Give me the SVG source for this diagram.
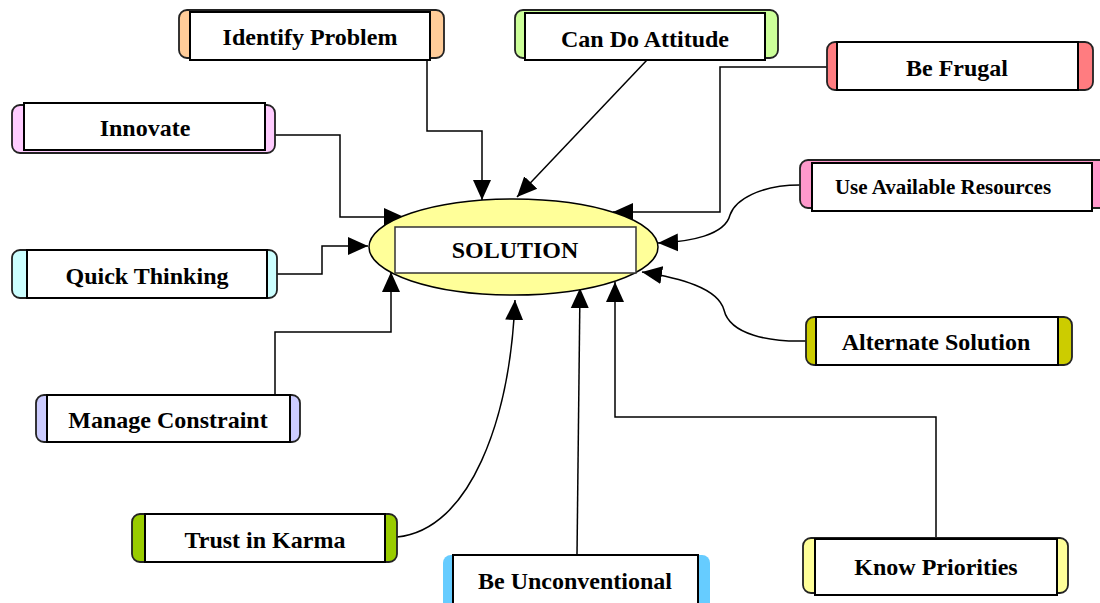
<svg xmlns="http://www.w3.org/2000/svg" width="1100" height="603" viewBox="0 0 1100 603">
<style>
.bg{stroke:#222;stroke-width:1.8}
.box{fill:#fff;stroke:#000;stroke-width:2}
.t{font-family:"Liberation Serif",serif;font-weight:bold;font-size:24px;fill:#000;text-anchor:middle}
.c{fill:none;stroke:#000;stroke-width:1.5}
</style>
<defs>
<marker id="ah" markerUnits="userSpaceOnUse" markerWidth="22" markerHeight="22" viewBox="0 0 22 22" refX="20" refY="11" orient="auto">
<path d="M0,2 L20,11 L0,20 Z" fill="#000"/>
</marker>
</defs>
<rect width="1100" height="603" fill="#fff"/>
<g id="connectors">
<path class="c" d="M427,60 V131 H482 V200" marker-end="url(#ah)"/>
<path class="c" d="M647,60 L517,197" marker-end="url(#ah)"/>
<path class="c" d="M827,67 H720 V212 H613" marker-end="url(#ah)"/>
<path class="c" d="M275,135 H340 V217 H404" marker-end="url(#ah)"/>
<path class="c" d="M800,185 C760,185 735,200 730,215 C725,235 690,242 658,243" marker-end="url(#ah)"/>
<path class="c" d="M277,274 H322 V246 H368" marker-end="url(#ah)"/>
<path class="c" d="M806,341 C770,342 730,335 724,310 C718,288 680,278 642,272" marker-end="url(#ah)"/>
<path class="c" d="M275,394 V332 H391 V272" marker-end="url(#ah)"/>
<path class="c" d="M397,537 C470,530 510,420 515,300" marker-end="url(#ah)"/>
<path class="c" d="M577,555 L580,288" marker-end="url(#ah)"/>
<path class="c" d="M936,538 V417 H615 V282" marker-end="url(#ah)"/>
</g>
<g id="solution">
<ellipse cx="513.5" cy="247" rx="144.5" ry="48" fill="#FFFF99" stroke="#000" stroke-width="1.5"/>
<rect x="395" y="227" width="241" height="46" fill="#fff" stroke="#333" stroke-width="1.5"/>
<text class="t" x="515" y="258">SOLUTION</text>
</g>
<g id="identify-problem">
<rect class="bg" x="179" y="10" width="265" height="48" rx="8" fill="#FFCC99"/>
<rect class="box" x="190" y="12" width="240" height="48"/>
<text class="t" x="310" y="45">Identify Problem</text>
</g>
<g id="can-do-attitude">
<rect class="bg" x="515" y="10" width="263" height="48" rx="8" fill="#CCFF99"/>
<rect class="box" x="525" y="13" width="240" height="47"/>
<text class="t" x="645" y="47">Can Do Attitude</text>
</g>
<g id="be-frugal">
<rect class="bg" x="827" y="42" width="266" height="48" rx="8" fill="#FF7C80"/>
<rect class="box" x="837" y="42" width="241" height="48"/>
<text class="t" x="957" y="76">Be Frugal</text>
</g>
<g id="innovate">
<rect class="bg" x="12" y="105" width="263" height="48" rx="8" fill="#FFCCFF"/>
<rect class="box" x="24" y="103" width="241" height="47"/>
<text class="t" x="145" y="136">Innovate</text>
</g>
<g id="use-available-resources">
<rect class="bg" x="800" y="160" width="310" height="48" rx="8" fill="#FF99CC"/>
<rect class="box" x="812" y="163" width="280" height="48"/>
<text class="t" x="943" y="194" style="font-size:21px">Use Available Resources</text>
</g>
<g id="quick-thinking">
<rect class="bg" x="12" y="250" width="265" height="48" rx="8" fill="#CCFFFF"/>
<rect class="box" x="27" y="250" width="240" height="48"/>
<text class="t" x="147" y="284">Quick Thinking</text>
</g>
<g id="alternate-solution">
<rect class="bg" x="806" y="317" width="266" height="48" rx="8" fill="#CCCC00"/>
<rect class="box" x="816" y="317" width="242" height="48"/>
<text class="t" x="936" y="350">Alternate Solution</text>
</g>
<g id="manage-constraint">
<rect class="bg" x="36" y="395" width="264" height="47" rx="8" fill="#CCCCFF"/>
<rect class="box" x="47" y="395" width="243" height="47"/>
<text class="t" x="168" y="428">Manage Constraint</text>
</g>
<g id="trust-in-karma">
<rect class="bg" x="132" y="514" width="265" height="48" rx="8" fill="#99CC00"/>
<rect class="box" x="145" y="514" width="240" height="48"/>
<text class="t" x="265" y="548">Trust in Karma</text>
</g>
<g id="be-unconventional">
<rect x="443" y="555" width="267" height="55" rx="8" fill="#66CCFF"/>
<rect class="box" x="453" y="555" width="245" height="50"/>
<text class="t" x="575" y="589">Be Unconventional</text>
</g>
<g id="know-priorities">
<rect class="bg" x="803" y="538" width="265" height="55" rx="8" fill="#FFFF99"/>
<rect class="box" x="815" y="539" width="242" height="56"/>
<text class="t" x="936" y="575">Know Priorities</text>
</g>
</svg>
